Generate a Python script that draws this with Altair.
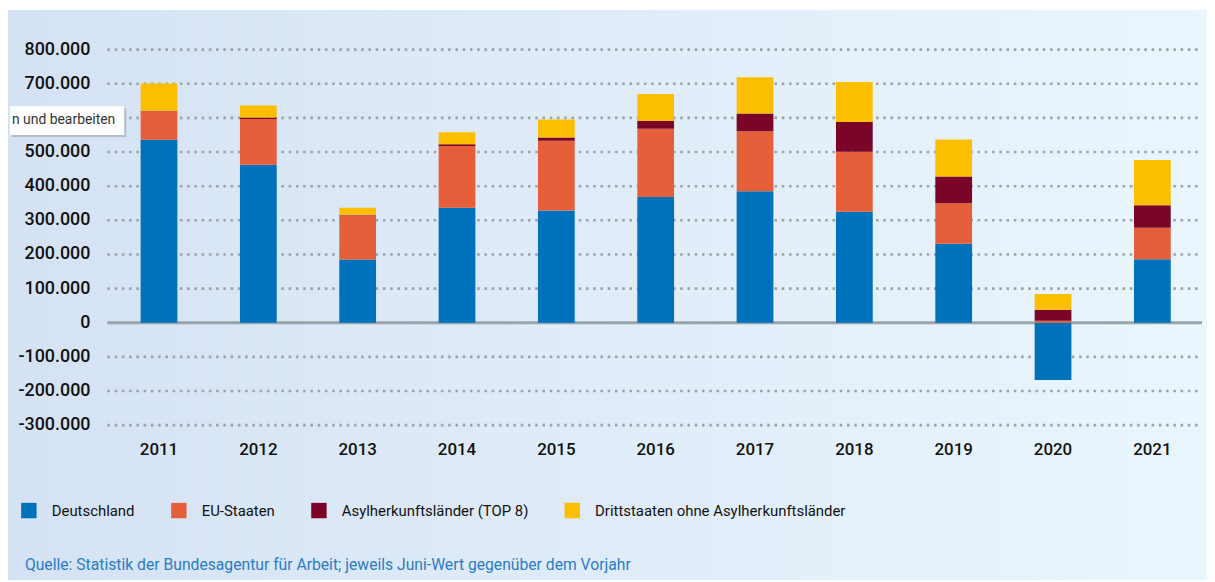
import altair as alt
import pandas as pd

# ---- data ----
years = ["2011", "2012", "2013", "2014", "2015", "2016", "2017", "2018", "2019", "2020", "2021"]
series_names = ["Deutschland", "EU-Staaten", "Asylherkunftsländer (TOP 8)", "Drittstaaten ohne Asylherkunftsländer"]
series_colors = ["#0072bc", "#e5603a", "#7a0527", "#fbbf00"]
deutschland = [536000, 463000, 185000, 337000, 329000, 368000, 385000, 325000, 231000, -168000, 186000]
eu_staaten = [84000, 134000, 130000, 181000, 204000, 200000, 176000, 176000, 119000, 6000, 92000]
asyl_top8 = [1000, 4000, 1000, 5000, 9500, 24000, 52000, 87000, 78000, 32000, 66000]
drittstaaten = [80000, 35000, 21000, 35000, 53000, 78000, 106000, 117000, 109000, 46000, 133000]
ytick_values = [-300000, -200000, -100000, 0, 100000, 200000, 300000, 400000, 500000, 600000, 700000, 800000]
ytick_labels = ["-300.000", "-200.000", "-100.000", "0", "100.000", "200.000", "300.000",
                "400.000", "500.000", "600.000", "700.000", "800.000"]
hidden_tick = 600000  # covered by the popup box in the reference
source_text = "Quelle: Statistik der Bundesagentur für Arbeit; jeweils Juni-Wert gegenüber dem Vorjahr"
popup_text = "n und bearbeiten"

FONT = "Roboto"
W, H = 1100, 378

rows = []
for i, y in enumerate(years):
    for k, (name, vals) in enumerate(zip(series_names, [deutschland, eu_staaten, asyl_top8, drittstaaten])):
        rows.append({"Jahr": y, "Gruppe": name, "Wert": vals[i], "ord": k})
bars_df = pd.DataFrame(rows)
ticks_df = pd.DataFrame({"v": ytick_values, "lab": ytick_labels})
grid_df = ticks_df[ticks_df["v"] != 0]
label_df = ticks_df[ticks_df["v"] != hidden_tick]
one = pd.DataFrame({"a": [0]})

yscale = alt.Scale(domain=[-300000, 800000], nice=False, zero=False)
xscale = alt.Scale(domain=years, paddingInner=0.63, paddingOuter=0.315)

# background panel with horizontal gradient
bg = alt.Chart(one).mark_rect(
    fill={"gradient": "linear", "x1": 0, "x2": 1, "y1": 0, "y2": 0,
          "stops": [{"offset": 0, "color": "#d5e2f4"}, {"offset": 1, "color": "#eaf6fd"}]}
).encode(x=alt.value(-102), x2=alt.value(W + 5), y=alt.value(-40), y2=alt.value(H + 156))

grid = alt.Chart(grid_df).mark_rule(
    color="#9ea3a8", strokeWidth=2.6, strokeDash=[2.6, 4.7], strokeCap="butt"
).encode(y=alt.Y("v:Q", scale=yscale, axis=None), x=alt.value(-2), x2=alt.value(W))

zero = alt.Chart(pd.DataFrame({"v": [0]})).mark_rule(
    color="#98a3aa", strokeWidth=3
).encode(y=alt.Y("v:Q", scale=yscale, axis=None), x=alt.value(-2), x2=alt.value(W))

bars = alt.Chart(bars_df).mark_bar().encode(
    x=alt.X("Jahr:N", scale=xscale, sort=years,
            axis=alt.Axis(title=None, domain=False, ticks=False, labelAngle=0,
                          labelFont=FONT, labelFontSize=17, labelColor="#111111",
                          labelFontWeight=500, labelPadding=17, zindex=1)),
    y=alt.Y("Wert:Q", scale=yscale, stack="zero", axis=None),
    color=alt.Color("Gruppe:N", scale=alt.Scale(domain=series_names, range=series_colors),
                    legend=alt.Legend(title=None, orient="none", legendX=-89, legendY=456,
                                      direction="horizontal", symbolType="square",
                                      symbolSize=240, symbolStrokeWidth=0,
                                      labelFont=FONT, labelFontSize=15, labelColor="#111111",
                                      labelLimit=500, labelOffset=15, columnPadding=36)),
    order=alt.Order("ord:Q", sort="ascending"),
)

ylabels = alt.Chart(label_df).mark_text(
    align="right", baseline="middle", font=FONT, fontSize=18, fontWeight=500, color="#111111"
).encode(y=alt.Y("v:Q", scale=yscale, axis=None), x=alt.value(-19), text="lab:N")

shadow = alt.Chart(one).mark_rect(fill="#9a9a9a", opacity=0.55).encode(
    x=alt.value(-98), x2=alt.value(17), y=alt.value(59), y2=alt.value(88))
popup = alt.Chart(one).mark_rect(fill="white").encode(
    x=alt.value(-100), x2=alt.value(15), y=alt.value(57), y2=alt.value(86))
popup_label = alt.Chart(one).mark_text(
    align="left", baseline="middle", font=FONT, fontSize=14, color="#333333"
).encode(x=alt.value(-98), y=alt.value(71), text=alt.value(popup_text))

source = alt.Chart(one).mark_text(
    align="left", baseline="middle", font=FONT, fontSize=15.8, color="#2a7cc3"
).encode(x=alt.value(-85), y=alt.value(519), text=alt.value(source_text))

chart = alt.layer(bg, grid, zero, bars, ylabels, shadow, popup, popup_label, source).properties(
    width=W, height=H,
    autosize=alt.AutoSizeParams(type="none"),
    padding={"left": 102, "top": 40, "right": 5, "bottom": 156},
    background="white",
).configure_view(stroke=None).configure(font=FONT)

chart.save("out.html", embed_options={"renderer": "svg", "actions": False})
